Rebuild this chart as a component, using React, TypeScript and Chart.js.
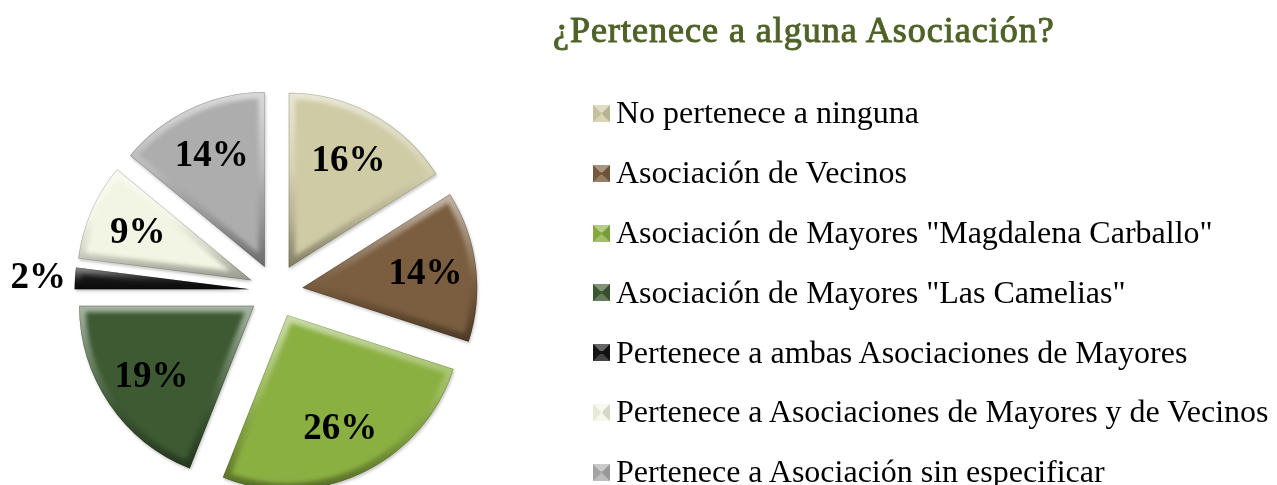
import React, { useEffect, useRef } from 'react';
import { Chart, registerables } from 'chart.js';

Chart.register(...registerables);

const chartTitle = '¿Pertenece a alguna Asociación?';
const categories = [
  'No pertenece a ninguna',
  'Asociación de Vecinos',
  'Asociación de Mayores "Magdalena Carballo"',
  'Asociación de Mayores "Las Camelias"',
  'Pertenece a ambas Asociaciones de Mayores',
  'Pertenece a Asociaciones de Mayores y de Vecinos',
  'Pertenece a Asociación sin especificar',
];
const percentages = [16, 14, 26, 19, 2, 9, 14];
const percentLabels = ['16%', '14%', '26%', '19%', '2%', '9%', '14%'];
const sliceColors = ['#CFCBA5', '#7B5E3F', '#8BB042', '#3D5A33', '#141414', '#F2F5E3', '#ADADAD'];

const W = 1277;
const H = 485;
const RADIUS = 175;
const EXPLODE = 26.4;
const LABEL_IN = 0.71;
const LABEL_OUT = 1.21;
const SMALL = 5;

function mix(hex: string, target: number, t: number): string {
  const n = parseInt(hex.slice(1), 16);
  const r = (n >> 16) & 255;
  const g = (n >> 8) & 255;
  const b = n & 255;
  const f = (c: number) => Math.round(c + (target - c) * t);
  return `rgb(${f(r)},${f(g)},${f(b)})`;
}

function slicePath(ctx: CanvasRenderingContext2D, a: any) {
  ctx.beginPath();
  ctx.moveTo(a.x, a.y);
  ctx.arc(a.x, a.y, a.outerRadius, a.startAngle, a.endAngle);
  ctx.closePath();
}

const piePlugin = {
  id: 'bevelPie',
  afterDatasetUpdate(_chart: any, args: any) {
    args.meta.data.forEach((arc: any) => {
      const mid = (arc.startAngle + arc.endAngle) / 2;
      arc.x += Math.cos(mid) * EXPLODE;
      arc.y += Math.sin(mid) * EXPLODE;
    });
  },
  beforeDatasetsDraw(chart: any) {
    const ctx = chart.ctx as CanvasRenderingContext2D;
    ctx.save();
    ctx.shadowColor = 'rgba(0,0,0,0.22)';
    ctx.shadowBlur = 3;
    ctx.shadowOffsetX = 1;
    ctx.shadowOffsetY = 2;
  },
  afterDatasetsDraw(chart: any) {
    const ctx = chart.ctx as CanvasRenderingContext2D;
    ctx.restore();
    const meta = chart.getDatasetMeta(0);
    meta.data.forEach((a: any) => {
      let minY = a.y;
      let maxY = a.y;
      for (let k = 0; k <= 40; k++) {
        const ang = a.startAngle + ((a.endAngle - a.startAngle) * k) / 40;
        const yy = a.y + Math.sin(ang) * a.outerRadius;
        minY = Math.min(minY, yy);
        maxY = Math.max(maxY, yy);
      }
      ctx.save();
      slicePath(ctx, a);
      ctx.clip();
      const g = ctx.createLinearGradient(0, minY, 0, maxY);
      g.addColorStop(0, 'rgba(255,255,255,0.55)');
      g.addColorStop(0.45, 'rgba(255,255,255,0.15)');
      g.addColorStop(0.7, 'rgba(0,0,0,0.10)');
      g.addColorStop(1, 'rgba(0,0,0,0.38)');
      ctx.filter = 'blur(2px)';
      ctx.lineJoin = 'miter';
      ctx.lineWidth = 13;
      ctx.strokeStyle = g;
      slicePath(ctx, a);
      ctx.stroke();
      ctx.filter = 'none';
      ctx.lineWidth = 1.5;
      ctx.strokeStyle = 'rgba(0,0,0,0.18)';
      slicePath(ctx, a);
      ctx.stroke();
      ctx.restore();
    });

    ctx.save();
    ctx.font = 'bold 37px "Liberation Serif", "Times New Roman", serif';
    ctx.fillStyle = '#000000';
    ctx.textAlign = 'center';
    ctx.textBaseline = 'middle';
    meta.data.forEach((a: any, i: number) => {
      const mid = (a.startAngle + a.endAngle) / 2;
      const d = (percentages[i] < SMALL ? LABEL_OUT : LABEL_IN) * a.outerRadius;
      ctx.fillText(percentLabels[i], a.x + Math.cos(mid) * d, a.y + Math.sin(mid) * d + 2);
    });
    ctx.restore();
  },
};

export default function App() {
  const canvasRef = useRef<HTMLCanvasElement | null>(null);

  useEffect(() => {
    if (!canvasRef.current) return;
    const chart = new Chart(canvasRef.current, {
      type: 'pie',
      data: {
        labels: categories,
        datasets: [
          {
            data: percentages,
            backgroundColor: sliceColors,
            borderWidth: 0,
          },
        ],
      },
      options: {
        animation: false,
        responsive: false,
        devicePixelRatio: 1,
        events: [],
        radius: RADIUS,
        layout: { padding: { left: 0, right: 725, top: 97, bottom: 0 } },
        plugins: {
          legend: { display: false },
          title: { display: false },
          tooltip: { enabled: false },
        },
      } as any,
      plugins: [piePlugin as any],
    });
    return () => chart.destroy();
  }, []);

  return (
    <div style={{ position: 'fixed', left: 0, top: 0, width: W, height: H, background: '#ffffff', overflow: 'hidden' }}>
      <canvas ref={canvasRef} width={W} height={H} style={{ position: 'absolute', left: 0, top: 0, width: W, height: H }} />
      <div
        style={{
          position: 'absolute',
          left: 553,
          top: 12,
          font: '36px "Liberation Serif", "Times New Roman", serif',
          lineHeight: '36px',
          letterSpacing: '1px',
          color: '#4F6228',
          WebkitTextStroke: '1px #4F6228',
          whiteSpace: 'nowrap',
        }}
      >
        {chartTitle}
      </div>
      {categories.map((c, i) => {
        const baseline = 123 + i * 59.83;
        const col = sliceColors[i];
        return (
          <React.Fragment key={c}>
            <div
              style={{
                position: 'absolute',
                left: 593,
                top: baseline - 18,
                width: 3,
                height: 3,
                borderStyle: 'solid',
                borderWidth: 7,
                borderTopColor: mix(col, 255, 0.35),
                borderBottomColor: mix(col, 255, 0.2),
                borderLeftColor: mix(col, 0, 0.05),
                borderRightColor: mix(col, 0, 0.12),
                background: col,
              }}
            />
            <div
              style={{
                position: 'absolute',
                left: 616,
                top: baseline - 26.8,
                font: '32px "Liberation Serif", "Times New Roman", serif',
                lineHeight: '32px',
                color: '#000000',
                whiteSpace: 'nowrap',
              }}
            >
              {c}
            </div>
          </React.Fragment>
        );
      })}
    </div>
  );
}
